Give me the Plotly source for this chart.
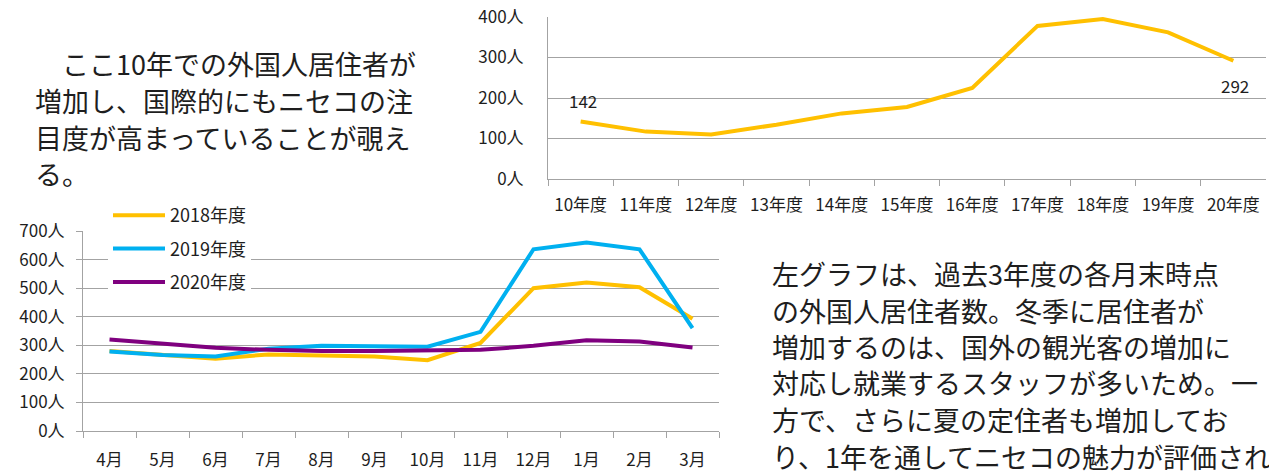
import plotly.graph_objects as go

# page body has an 8px margin: compensate so the figure lands like the reference
OFF = 8
W, H = 1277 - OFF, 475 - OFF

# ---- data ----
years = ["10年度", "11年度", "12年度", "13年度", "14年度", "15年度",
         "16年度", "17年度", "18年度", "19年度", "20年度"]
residents = [142, 117, 110, 134, 162, 178, 225, 378, 395, 362, 292]

months = ["4月", "5月", "6月", "7月", "8月", "9月", "10月", "11月", "12月", "1月", "2月", "3月"]
fy2018 = [280, 265, 253, 268, 266, 261, 248, 308, 500, 520, 503, 393]
fy2019 = [278, 266, 261, 288, 298, 298, 295, 347, 636, 660, 636, 360]
fy2020 = [320, 305, 291, 284, 280, 280, 281, 284, 298, 318, 313, 292]

series_names = ["2018年度", "2019年度", "2020年度"]
series_colors = ["#FFC000", "#00B0F0", "#7F007F"]

left_text = ["　ここ10年での外国人居住者が",
             "増加し、国際的にもニセコの注",
             "目度が高まっていることが覗え",
             "る。"]
right_text = ["左グラフは、過去3年度の各月末時点",
              "の外国人居住者数。冬季に居住者が",
              "増加するのは、国外の観光客の増加に",
              "対応し就業するスタッフが多いため。一",
              "方で、さらに夏の定住者も増加してお",
              "り、1年を通してニセコの魅力が評価され"]

FONT = "Noto Sans CJK JP, Noto Sans, sans-serif"
TXT = "#1e1e1e"
GRID = "#a3a3a3"


def px_x(p):
    return (p - OFF) / W


def px_y(p):
    return 1 - (p - OFF) / H


fig = go.Figure()

# top chart
fig.add_trace(go.Scatter(x=years, y=residents, mode="lines",
                         line=dict(color="#FFC000", width=4),
                         showlegend=False, xaxis="x", yaxis="y"))

# bottom chart
for name, col, vals in zip(series_names, series_colors, [fy2018, fy2019, fy2020]):
    fig.add_trace(go.Scatter(x=months, y=vals, mode="lines", name=name,
                             legendgroup=name,
                             line=dict(color=col, width=4),
                             xaxis="x2", yaxis="y2"))

base = dict(showline=True, linecolor=GRID, linewidth=1, zeroline=False,
            automargin=False, ticklabeloverflow="allow",
            tickfont=dict(family=FONT, size=17, color=TXT))
ygrid = dict(showgrid=True, gridcolor=GRID, gridwidth=1)

fig.update_layout(
    width=W, height=H, autosize=False,
    margin=dict(l=0, r=0, t=0, b=0, autoexpand=False),
    paper_bgcolor="white", plot_bgcolor="white",
    xaxis=dict(domain=[px_x(548), px_x(1266)], anchor="y", type="category",
               range=[-0.5, len(years) - 0.5],
               showgrid=False, ticks="outside", tickson="boundaries",
               ticklen=6, tickcolor=GRID, ticklabelstandoff=11, **base),
    yaxis=dict(domain=[px_y(179), px_y(17)], anchor="x", range=[0, 400],
               dtick=100, ticksuffix="人", ticks="",
               ticklabelstandoff=20, **ygrid, **base),
    xaxis2=dict(domain=[px_x(83), px_x(719)], anchor="y2", type="category",
                range=[-0.5, len(months) - 0.5],
                showgrid=False, ticks="outside", tickson="boundaries",
                ticklen=6, tickcolor=GRID, ticklabelstandoff=14, **base),
    yaxis2=dict(domain=[px_y(431), px_y(231)], anchor="x2", range=[0, 700],
                dtick=100, ticksuffix="人", ticks="outside",
                ticklen=6, tickcolor=GRID, ticklabelstandoff=8, **ygrid, **base),
    legend=dict(x=px_x(108), y=px_y(197), xanchor="left", yanchor="top",
                bgcolor="white", borderwidth=0,
                font=dict(family=FONT, size=18, color=TXT),
                tracegroupgap=7, itemwidth=52),
    showlegend=True,
)

# data labels on top chart
fig.add_annotation(x=years[0], y=residents[0], xref="x", yref="y",
                   text=str(residents[0]), showarrow=False, yshift=21, xshift=2,
                   font=dict(family=FONT, size=17, color=TXT))
fig.add_annotation(x=years[-1], y=residents[-1], xref="x", yref="y",
                   text=str(residents[-1]), showarrow=False, yshift=-25, xshift=2,
                   font=dict(family=FONT, size=17, color=TXT))

# text blocks
left_y = [63, 101, 137, 173]
for t, yy in zip(left_text, left_y):
    fig.add_annotation(x=px_x(33), y=px_y(yy), xref="paper", yref="paper",
                       text=t, showarrow=False, xanchor="left", yanchor="middle",
                       font=dict(family=FONT, size=27, color=TXT))

right_y = [273, 310, 346, 382, 419, 456]
for t, yy in zip(right_text, right_y):
    fig.add_annotation(x=px_x(770), y=px_y(yy), xref="paper", yref="paper",
                       text=t, showarrow=False, xanchor="left", yanchor="middle",
                       font=dict(family=FONT, size=27, color=TXT))

fig.write_html("out.html")
